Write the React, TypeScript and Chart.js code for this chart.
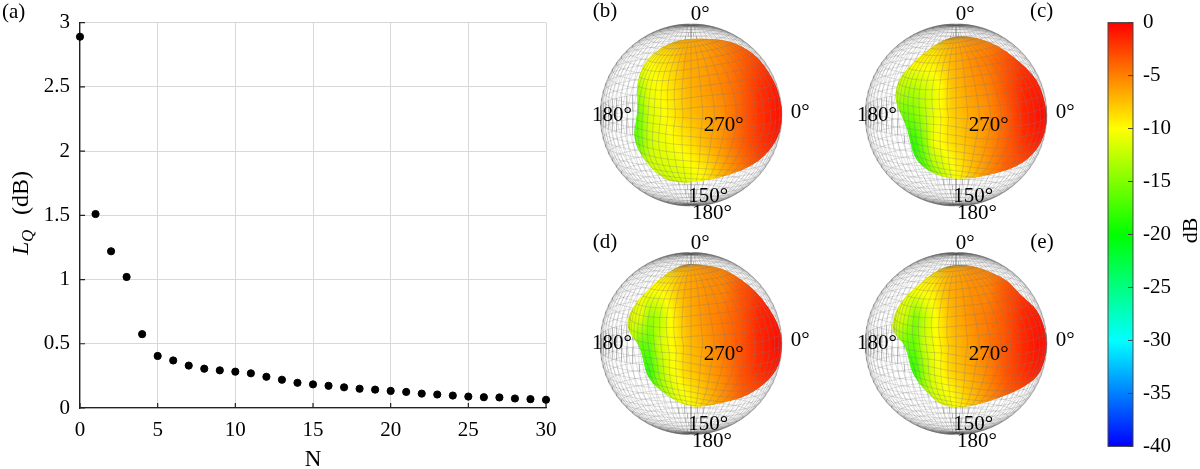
import React, { useEffect, useRef } from "react";
import { Chart, registerables } from "chart.js";

Chart.register(...registerables);

const SERIF = "'Liberation Serif', serif";

// Panel (a)
const orders = [0,1,2,3,4,5,6,7,8,9,10,11,12,13,14,15,16,17,18,19,20,21,22,23,24,25,26,27,28,29,30];
const lossQ = [2.89,1.51,1.22,1.02,0.575,0.405,0.37,0.33,0.306,0.293,0.283,0.27,0.243,0.22,0.196,0.184,0.173,0.161,0.15,0.143,0.133,0.125,0.112,0.105,0.097,0.089,0.084,0.082,0.074,0.069,0.064];

// Colour bar
const colorLevels = [0, -10, -20, -30, -40];
const colorValues = [[255,0,0],[255,255,0],[0,255,0],[0,255,255],[0,0,255]];
const colorTicks = [0,-5,-10,-15,-20,-25,-30,-35,-40];

// Balloon outlines (sphere radius = 100)
const outlineB = [[8,84],[36,83],[58,75],[76,61],[93,35],[99,13],[100,0],[98,-20],[87,-39],[69,-55],[43,-66],[17,-72],[-12,-75],[-31,-70],[-49,-53],[-60,-35],[-63,-20],[-59,0],[-59,17],[-59,39],[-50,60],[-32,75],[-12,83]];
const outlineC = [[4,87],[23,85],[45,77],[66,62],[85,44],[94,28],[100,2],[98,-20],[89,-39],[71,-55],[45,-64],[15,-70],[-10,-70],[-32,-61],[-45,-48],[-50,-31],[-54,-13],[-62,4],[-67,17],[-65,35],[-54,51],[-36,68],[-14,83]];
const outlineD = [[3,87],[25,85],[43,79],[69,60],[87,38],[98,16],[100,-3],[97,-25],[83,-43],[61,-58],[36,-65],[10,-70],[-8,-68],[-30,-55],[-47,-39],[-52,-21],[-56,-3],[-67,10],[-71,24],[-63,42],[-45,62],[-23,80],[-8,87]];
const outlineE = [[1,87],[21,85],[39,78],[57,69],[72,52],[89,38],[98,16],[100,-3],[97,-21],[90,-36],[76,-47],[58,-56],[32,-65],[6,-71],[-16,-68],[-30,-56],[-47,-36],[-52,-17],[-56,-1],[-67,9],[-71,19],[-67,34],[-58,49],[-41,65],[-19,82]];

// Level in dB over the balloon
const fieldU = [-75,-65,-55,-45,-35,-25,-15,-5,15,35,55,75,95];
const fieldV = [85,60,30,0,-30,-60,-80];
const levelsB = [
  [-10,-10,-10,-9.5,-8.5,-7.7,-7.2,-6.7,-6.2,-5.2,-3.8,-2.5,-2],
  [-10,-10,-10,-10,-9.2,-8.7,-7.7,-6.7,-6.2,-5.2,-3.8,-2.5,-1.5],
  [-14,-14,-13,-10.5,-10,-9.2,-8.2,-7.2,-6.2,-5.2,-3.8,-2,-1],
  [-17,-17,-15,-11.5,-10.5,-9.7,-8.7,-7.7,-6.7,-5.7,-3.8,-2,-0.8],
  [-17,-17,-15,-12,-11,-10.5,-9.7,-9.2,-7.2,-5.7,-3.8,-2.2,-1],
  [-15,-15,-13,-12,-11.7,-11.7,-11.2,-10.7,-9.2,-6.7,-4.8,-3,-2.5],
  [-14,-14,-13,-12,-12,-12,-12,-12,-9.7,-7.2,-5.3,-3.5,-3],
];
const levelsC = [
  [-11,-11,-10,-9.5,-9.2,-8.7,-7.7,-6.7,-5.7,-5.2,-3.8,-2.5,-2],
  [-11,-11,-10,-9.5,-9.3,-9.2,-8.2,-7.2,-5.7,-4.7,-3.3,-2,-1.5],
  [-12,-12,-13,-13,-12,-11,-9.7,-7.7,-6.2,-5.2,-3.3,-1.5,-1],
  [-15,-15,-16,-15,-13,-11,-9.7,-8.2,-6.7,-5.7,-3.8,-1.5,-0.5],
  [-18,-18,-18,-18,-15,-10.5,-9.7,-8.7,-7.2,-5.7,-3.8,-2,-1],
  [-18,-18,-18,-18,-17,-14,-12,-10.5,-7.7,-5.7,-3.8,-3,-2.5],
  [-17,-17,-17,-17,-16,-15,-13,-11,-8.7,-5.7,-4.3,-3.5,-3],
];
const levelsD = [
  [-11,-11,-10,-10,-9.2,-8.7,-7.7,-6.7,-5.7,-5.2,-3.8,-2.5,-2],
  [-11,-11,-10,-10,-9.7,-9.2,-7.7,-6.7,-5.7,-5.2,-3.3,-2,-1.5],
  [-11,-11,-11,-14,-13,-10.5,-8.7,-7.2,-5.7,-4.7,-3.3,-1.5,-0.8],
  [-11,-13,-16,-16,-12,-10.5,-9.2,-7.7,-6.2,-4.7,-3.3,-1.5,-0.5],
  [-17,-17,-18,-18,-14,-11,-9.7,-8.2,-6.7,-5.2,-3.3,-1.8,-1],
  [-17,-17,-17,-17,-15,-13,-11,-10.2,-7.7,-5.7,-3.8,-3,-2.5],
  [-17,-17,-17,-16,-14,-13,-12,-11,-8.7,-6.2,-4.3,-3.5,-3],
];
const levelsE = [
  [-11,-11,-10,-10,-9.2,-8.7,-7.7,-6.7,-5.7,-5.2,-3.8,-2.5,-2],
  [-11,-11,-10.5,-10,-9.7,-9.2,-7.7,-6.7,-5.7,-5.2,-3.3,-2,-1.5],
  [-11,-11,-12,-15,-12.5,-10.5,-8.7,-7.2,-5.7,-4.7,-3.3,-1.5,-0.8],
  [-12,-14,-16,-16,-12,-10.5,-9.2,-7.7,-6.2,-4.7,-3.3,-1.5,-0.5],
  [-17,-17,-18,-18,-14,-11,-9.7,-8.2,-6.7,-5.2,-3.3,-1.8,-1],
  [-17,-17,-17,-16,-14,-12,-11,-10.2,-7.7,-5.7,-3.8,-3,-2.5],
  [-16,-16,-16,-15,-13,-12,-11.5,-11,-8.7,-6.2,-4.3,-3.5,-3],
];

const angleTexts = ["0°", "0°", "180°", "270°", "150°", "180°"];
const angleU = [10, 120, -87, 36, 19, 23];
const angleV = [110, 3, 0, -12, -89, -108];

function jet(db: number) {
  const t = Math.max(0, Math.min(3.9999, -db / 10));
  const i = Math.floor(t);
  const f = t - i;
  const a = colorValues[i], b = colorValues[i + 1];
  return `rgb(${a.map((c, k) => Math.round(c + (b[k] - c) * f)).join(",")})`;
}

// Orthographic view of the measurement sphere: slightly from above
const TILT = (10 * Math.PI) / 180;
function project(thetaDeg: number, phiDeg: number) {
  const th = (thetaDeg * Math.PI) / 180, ph = (phiDeg * Math.PI) / 180;
  const x = Math.sin(th) * Math.cos(ph);
  const d = -Math.sin(th) * Math.sin(ph);
  const z = Math.cos(th);
  return { u: x, v: z * Math.cos(TILT) - d * Math.sin(TILT), depth: d * Math.cos(TILT) + z * Math.sin(TILT) };
}

function sphereWire() {
  const lines: { x: number; y: number }[][] = [];
  const STEP = 5;
  for (let th = STEP; th < 180; th += STEP) {
    const l = [];
    for (let p = 0; p <= 360; p += 5) { const q = project(th, p); l.push({ x: q.u * 100, y: q.v * 100 }); }
    lines.push(l);
  }
  for (let p = 0; p < 360; p += STEP) {
    const l = [];
    for (let th = 0; th <= 180; th += 5) { const q = project(th, p); l.push({ x: q.u * 100, y: q.v * 100 }); }
    lines.push(l);
  }
  return lines;
}

function radiusFn(outline: number[][]) {
  const pts = outline.map(([u, v]) => ({ a: Math.atan2(v, u), r: Math.hypot(u, v) })).sort((p, q) => p.a - q.a);
  const raw = (a: number) => {
    const n = pts.length;
    for (let i = 0; i < n; i++) {
      const p = pts[i], q = pts[(i + 1) % n];
      const qa = i === n - 1 ? q.a + 2 * Math.PI : q.a;
      for (const aa of [a, a + 2 * Math.PI]) {
        if (aa >= p.a && aa <= qa) return p.r + ((q.r - p.r) * (aa - p.a)) / (qa - p.a);
      }
    }
    return pts[0].r;
  };
  // the mesh follows a smoothed radius so that it stays regular across the dents
  return (a: number) => {
    let s = 0;
    for (let k = -4; k <= 4; k++) s += raw(a + (k * 8 * Math.PI) / 180);
    return s / 9 + 3;
  };
}

function fieldAt(levels: number[][], u: number, v: number) {
  let c = 0;
  while (c < fieldU.length - 2 && u > fieldU[c + 1]) c++;
  const fc = Math.max(0, Math.min(1, (u - fieldU[c]) / (fieldU[c + 1] - fieldU[c])));
  let r = 0;
  while (r < fieldV.length - 2 && v < fieldV[r + 1]) r++;
  const fr = Math.max(0, Math.min(1, (fieldV[r] - v) / (fieldV[r] - fieldV[r + 1])));
  const top = levels[r][c] + (levels[r][c + 1] - levels[r][c]) * fc;
  const bot = levels[r + 1][c] + (levels[r + 1][c + 1] - levels[r + 1][c]) * fc;
  return top + (bot - top) * fr;
}

const balloonPlugin = (outline: number[][], levels: number[][], letter: string, letterU: number, letterV: number) => ({
  id: "balloon",
  afterDatasetsDraw(chart: any) {
    const { ctx } = chart;
    const X = chart.scales.x, Y = chart.scales.y;
    const px = (u: number) => X.getPixelForValue(u), py = (v: number) => Y.getPixelForValue(v);
    ctx.save();
    ctx.beginPath();
    const n = outline.length;
    const mid = (a: number[], b: number[]) => [(a[0] + b[0]) / 2, (a[1] + b[1]) / 2];
    const s = mid(outline[n - 1], outline[0]);
    ctx.moveTo(px(s[0]), py(s[1]));
    for (let i = 0; i < n; i++) {
      const m = mid(outline[i], outline[(i + 1) % n]);
      ctx.quadraticCurveTo(px(outline[i][0]), py(outline[i][1]), px(m[0]), py(m[1]));
    }
    ctx.closePath();
    ctx.clip();
    for (let u = -80; u < 104; u += 1.5) {
      for (let v = -82; v < 92; v += 1.5) {
        ctx.fillStyle = jet(fieldAt(levels, u + 0.75, v + 0.75));
        ctx.fillRect(px(u), py(v + 1.5), px(u + 1.5) - px(u) + 0.6, py(v) - py(v + 1.5) + 0.6);
      }
    }
    const rb = radiusFn(outline);
    const warp = (th: number, ph: number) => {
      const q = project(th, ph);
      const R = rb(Math.atan2(q.v, q.u));
      return { x: px(q.u * R), y: py(q.v * R), front: q.depth >= -0.02 };
    };
    ctx.strokeStyle = "rgba(125,125,125,0.45)";
    ctx.lineWidth = 0.7;
    const STEP = 7.5;
    const strokeLine = (get: (t: number) => { x: number; y: number; front: boolean }, lo: number, hi: number) => {
      ctx.beginPath();
      let on = false;
      for (let t = lo; t <= hi; t += 1.5) {
        const p = get(t);
        if (!p.front) { on = false; continue; }
        if (on) ctx.lineTo(p.x, p.y); else ctx.moveTo(p.x, p.y);
        on = true;
      }
      ctx.stroke();
    };
    for (let th = STEP; th < 180; th += STEP) strokeLine((p) => warp(th, p), 170, 370);
    for (let p = 180; p <= 360; p += STEP) strokeLine((th) => warp(th, p), 0, 180);
    ctx.restore();

    ctx.save();
    ctx.fillStyle = "#000";
    ctx.textAlign = "center";
    ctx.textBaseline = "middle";
    ctx.font = `21px ${SERIF}`;
    angleTexts.forEach((t, i) => ctx.fillText(t, px(angleU[i]), py(angleV[i])));
    ctx.font = `21px ${SERIF}`;
    ctx.fillText(letter, px(letterU), py(letterV));
    ctx.restore();
  },
});

const axisInkPlugin = {
  id: "axisInk",
  afterDraw(chart: any) {
    const { ctx, scales: { x, y } } = chart;
    ctx.save();
    ctx.strokeStyle = "#222";
    ctx.lineWidth = 1.2;
    ctx.beginPath();
    x.ticks.forEach((t: any) => { const p = x.getPixelForValue(t.value); ctx.moveTo(p, y.bottom); ctx.lineTo(p, y.bottom - 5); });
    y.ticks.forEach((t: any) => { const p = y.getPixelForValue(t.value); ctx.moveTo(x.left, p); ctx.lineTo(x.left + 5, p); });
    ctx.stroke();
    ctx.fillStyle = "#000";
    ctx.textBaseline = "alphabetic";
    ctx.textAlign = "left";
    ctx.font = `21px ${SERIF}`;
    ctx.fillText("(a)", 2, 18);
    ctx.translate(27.5, 255);
    ctx.rotate(-Math.PI / 2);
    ctx.font = `italic 24px ${SERIF}`;
    ctx.fillText("L", 0, 0);
    ctx.font = `italic 17px ${SERIF}`;
    ctx.fillText("Q", 13, 5);
    ctx.font = `24px ${SERIF}`;
    ctx.fillText("(dB)", 40, 0);
    ctx.restore();
  },
};

const colorbarInkPlugin = {
  id: "colorbarInk",
  afterDraw(chart: any) {
    const { ctx, scales: { y }, chartArea: a } = chart;
    ctx.save();
    ctx.strokeStyle = "#444";
    ctx.lineWidth = 1;
    ctx.strokeRect(a.left, a.top, a.right - a.left, a.bottom - a.top);
    ctx.beginPath();
    y.ticks.forEach((t: any) => { const p = y.getPixelForValue(t.value); ctx.moveTo(a.right, p); ctx.lineTo(a.right - 5, p); });
    ctx.stroke();
    ctx.fillStyle = "#000";
    ctx.font = `22px ${SERIF}`;
    ctx.textAlign = "center";
    ctx.textBaseline = "alphabetic";
    ctx.translate(a.right + 64, (a.top + a.bottom) / 2 - 4);
    ctx.rotate(-Math.PI / 2);
    ctx.fillText("dB", 0, 0);
    ctx.restore();
  },
};

const P_W = 240;
const SPHERE_SCALE = 0.91;
const CX = 111;

function sphereChart(canvas: HTMLCanvasElement, h: number, cy: number, plugin: any) {
  const wire = sphereWire();
  return new Chart(canvas, {
    type: "scatter",
    data: {
      datasets: [
        ...wire.map((line) => ({
          data: line,
          showLine: true,
          pointRadius: 0,
          borderColor: "rgba(90,90,90,0.36)",
          borderWidth: 0.5,
        })),
      ],
    },
    options: {
      responsive: false,
      animation: false,
      layout: { padding: 0 },
      plugins: { legend: { display: false }, tooltip: { enabled: false } },
      scales: {
        x: { display: false, min: -CX / SPHERE_SCALE, max: (P_W - CX) / SPHERE_SCALE },
        y: { display: false, min: -(h - cy) / SPHERE_SCALE, max: cy / SPHERE_SCALE },
      },
    },
    plugins: [plugin],
  } as any);
}

export default function App() {
  const aRef = useRef<HTMLCanvasElement>(null);
  const bRef = useRef<HTMLCanvasElement>(null);
  const cRef = useRef<HTMLCanvasElement>(null);
  const dRef = useRef<HTMLCanvasElement>(null);
  const eRef = useRef<HTMLCanvasElement>(null);
  const barRef = useRef<HTMLCanvasElement>(null);

  useEffect(() => {
    document.body.style.margin = "0";
    document.body.style.overflow = "hidden";
    const charts: Chart[] = [];
    charts.push(new Chart(aRef.current!, {
      type: "scatter",
      data: {
        datasets: [{
          data: orders.map((n, i) => ({ x: n, y: lossQ[i] })),
          backgroundColor: "#000",
          borderColor: "#000",
          pointRadius: 3.6,
          clip: false,
        }],
      },
      options: {
        responsive: false,
        animation: false,
        layout: { padding: { top: 16, right: 34, left: 0, bottom: 0 } },
        plugins: { legend: { display: false }, tooltip: { enabled: false } },
        scales: {
          x: {
            min: 0, max: 30,
            afterFit: (s: any) => { s.height = 61; },
            grid: { color: "#d8d8d8", lineWidth: 1, tickLength: 0 },
            border: { color: "#222", width: 1.3 },
            ticks: { stepSize: 5, padding: 10, maxRotation: 0, color: "#000", font: { family: SERIF, size: 21 } },
            title: { display: true, text: "N", color: "#000", font: { family: SERIF, size: 23, lineHeight: 0.8 }, padding: { top: 0, bottom: 0 } },
          },
          y: {
            min: 0, max: 3,
            afterFit: (s: any) => { s.width = 80; },
            grid: { color: "#d8d8d8", lineWidth: 1, tickLength: 0 },
            border: { color: "#222", width: 1.3 },
            ticks: { stepSize: 0.5, padding: 10, color: "#000", font: { family: SERIF, size: 21 }, callback: (v: any) => String(v) },
          },
        },
      },
      plugins: [axisInkPlugin],
    } as any));

    charts.push(sphereChart(bRef.current!, 229, 115, balloonPlugin(outlineB, levelsB, "(b)", -94.5, 114)));
    charts.push(sphereChart(cRef.current!, 229, 115, balloonPlugin(outlineC, levelsC, "(c)", 94, 114)));
    charts.push(sphereChart(dRef.current!, 240, 114.5, balloonPlugin(outlineD, levelsD, "(d)", -94.5, 111.5)));
    charts.push(sphereChart(eRef.current!, 240, 114.5, balloonPlugin(outlineE, levelsE, "(e)", 94.5, 111.5)));

    charts.push(new Chart(barRef.current!, {
      type: "bar",
      data: {
        labels: ["dB"],
        datasets: [{
          data: [[-40, 0]],
          barPercentage: 1,
          categoryPercentage: 1,
          backgroundColor: (c: any) => {
            const { ctx, chartArea, scales } = c.chart;
            if (!chartArea) return "#fff";
            const g = ctx.createLinearGradient(0, scales.y.getPixelForValue(0), 0, scales.y.getPixelForValue(-40));
            colorLevels.forEach((l) => g.addColorStop(-l / 40, jet(l)));
            return g;
          },
        }],
      },
      options: {
        responsive: false,
        animation: false,
        layout: { padding: { top: 14, bottom: 22, left: 23, right: 0 } },
        plugins: { legend: { display: false }, tooltip: { enabled: false } },
        scales: {
          x: { display: false },
          y: {
            position: "right",
            min: -40, max: 0,
            afterFit: (s: any) => { s.width = 67; },
            afterBuildTicks: (s: any) => { s.ticks = colorTicks.map((value) => ({ value })); },
            grid: { display: false, tickLength: 0 },
            border: { display: false },
            ticks: { padding: 10, color: "#000", font: { family: SERIF, size: 21 }, callback: (v: any) => String(v) },
          },
        },
      },
      plugins: [colorbarInkPlugin],
    } as any));
    return () => charts.forEach((c) => c.destroy());
  }, []);

  const pos = (left: number, top: number): React.CSSProperties => ({ position: "absolute", left, top, display: "block" });
  return (
    <div style={{ position: "relative", width: 1200, height: 469, background: "#fff", overflow: "hidden" }}>
      <canvas ref={aRef} width={580} height={469} style={pos(0, 0)} />
      <canvas ref={bRef} width={P_W} height={229} style={pos(580, 0)} />
      <canvas ref={cRef} width={P_W} height={229} style={pos(845, 0)} />
      <canvas ref={dRef} width={P_W} height={240} style={pos(580, 229)} />
      <canvas ref={eRef} width={P_W} height={240} style={pos(845, 229)} />
      <canvas ref={barRef} width={115} height={469} style={pos(1085, 0)} />
    </div>
  );
}
